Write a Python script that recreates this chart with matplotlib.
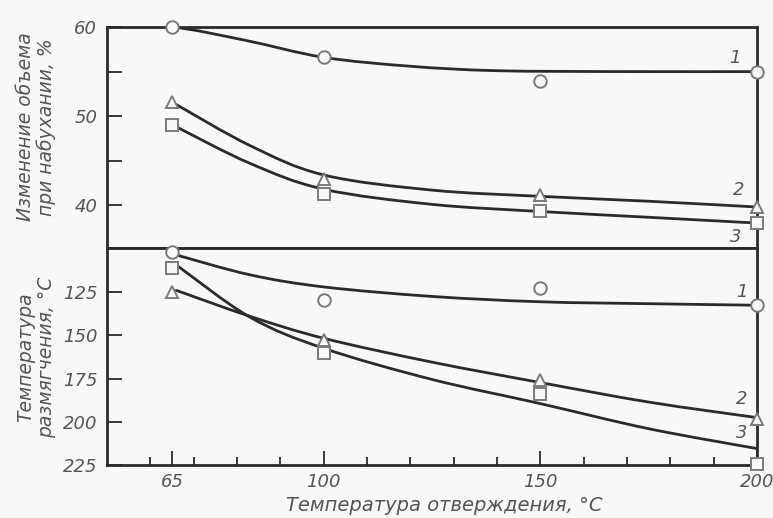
import matplotlib.pyplot as plt
from matplotlib.path import Path
from matplotlib.patches import PathPatch

# cure temperature of the measured samples, °C
t_points = [65, 100, 150, 200]

# volume change on swelling, % (measured points)
swell_1 = [60.0, 56.6, 54.0, 55.0]
swell_2 = [51.6, 43.0, 41.1, 39.8]
swell_3 = [49.0, 41.3, 39.4, 38.0]

# softening temperature, °C (measured points)
soft_1 = [102.0, 129.6, 122.7, 132.6]
soft_2 = [125.0, 152.9, 176.1, 198.5]
soft_3 = [111.0, 160.4, 183.7, 224.5]

# hand drawn averaging curves (nodes)
swell_1_x = [50, 65, 82, 100, 120, 140, 170, 200]
swell_1_y = [60.0, 60.0, 58.5, 56.6, 55.6, 55.1, 55.0, 55.0]
curve_x = [66, 83, 100, 125, 150, 175, 200]
swell_2_y = [51.3, 46.7, 43.4, 41.7, 41.0, 40.45, 39.8]
swell_3_y = [48.8, 44.7, 41.8, 40.1, 39.3, 38.65, 38.0]
soft_1_y = [103.5, 115.0, 122.0, 127.5, 130.6, 131.7, 132.6]
soft_2_y = [124.0, 139.0, 151.7, 165.5, 177.3, 188.6, 197.6]
soft_3_y = [109.3, 139.5, 157.5, 175.5, 189.5, 204.0, 215.5]

bg = '#f8f8f7'
ink = '#2b2b2b'
txt = '#555555'
mk = '#7a7a7a'


def smooth_curve(ax, xs, ys):
    # cubic bezier through the nodes (catmull-rom tangents)
    verts = [(xs[0], ys[0])]
    codes = [Path.MOVETO]
    n = len(xs)
    for i in range(n - 1):
        x0, y0 = xs[max(i - 1, 0)], ys[max(i - 1, 0)]
        x1, y1 = xs[i], ys[i]
        x2, y2 = xs[i + 1], ys[i + 1]
        x3, y3 = xs[min(i + 2, n - 1)], ys[min(i + 2, n - 1)]
        c1 = (x1 + (x2 - x0) / 6, y1 + (y2 - y0) / 6)
        c2 = (x2 - (x3 - x1) / 6, y2 - (y3 - y1) / 6)
        verts += [c1, c2, (x2, y2)]
        codes += [Path.CURVE4] * 3
    ax.add_patch(PathPatch(Path(verts, codes), fill=False, ec=ink, lw=2.0,
                           capstyle='round', zorder=2))


fig = plt.figure(figsize=(7.73, 5.18), dpi=100, facecolor=bg)
ax1 = fig.add_axes([0.1384, 0.5212, 0.8409, 0.4266], facecolor=bg)
ax2 = fig.add_axes([0.1384, 0.1023, 0.8409, 0.4189], facecolor=bg)

mk_kw = dict(ls='none', ms=9, mfc=bg, mec=mk, mew=1.4, zorder=3, clip_on=False)

# upper panel: swelling
smooth_curve(ax1, swell_1_x, swell_1_y)
smooth_curve(ax1, curve_x, swell_2_y)
smooth_curve(ax1, curve_x, swell_3_y)
ax1.plot(t_points, swell_1, marker='o', **mk_kw)
ax1.plot(t_points, swell_2, marker='^', **mk_kw)
ax1.plot(t_points, swell_3, marker='s', **mk_kw)
ax1.set_xlim(50, 200)
ax1.set_ylim(35.2, 60)
ax1.set_xticks([])
ax1.set_yticks([40, 50, 60])
ax1.set_yticks([45, 55], minor=True)

# lower panel: softening point, axis runs downward
smooth_curve(ax2, curve_x, soft_1_y)
smooth_curve(ax2, curve_x, soft_2_y)
smooth_curve(ax2, curve_x, soft_3_y)
ax2.plot(t_points, soft_1, marker='o', **mk_kw)
ax2.plot(t_points, soft_2, marker='^', **mk_kw)
ax2.plot(t_points, soft_3, marker='s', **mk_kw)
ax2.set_xlim(50, 200)
ax2.set_ylim(225, 99.5)
ax2.set_yticks([125, 150, 175, 200, 225])
ax2.set_xticks([65, 100, 150, 200])
ax2.set_xticks([60, 70, 80, 90, 110, 120, 130, 140, 160, 170, 180, 190], minor=True)

for ax in (ax1, ax2):
    for s in ax.spines.values():
        s.set_color(ink)
        s.set_linewidth(2.0)
    ax.tick_params(which='both', direction='in', color=ink, width=1.3,
                   labelcolor=txt, labelsize=13)
    ax.tick_params(axis='y', which='both', length=11, pad=7)
    ax.tick_params(axis='x', which='major', length=10, pad=6)
    ax.tick_params(axis='x', which='minor', length=6)
    for lab in ax.get_xticklabels() + ax.get_yticklabels():
        lab.set_style('italic')

# curve numbers
num_kw = dict(fontsize=13, style='italic', color=txt, ha='center', va='center')
ax1.text(195, 56.5, '1', **num_kw)
ax1.text(195.8, 41.7, '2', **num_kw)
ax1.text(195, 36.4, '3', **num_kw)
ax2.text(196.5, 125, '1', **num_kw)
ax2.text(196.5, 186.6, '2', **num_kw)
ax2.text(196.5, 206.4, '3', **num_kw)

lab_kw = dict(fontsize=13.5, style='italic', color=txt, rotation=90,
              ha='center', va='center', linespacing=1.1)
fig.text(0.047, 0.755, 'Изменение объема\nпри набухании, %', **lab_kw)
fig.text(0.047, 0.31, 'Температура\nразмягчения, °C', **lab_kw)
fig.text(0.575, 0.025, 'Температура отверждения, °C', fontsize=14,
         style='italic', color=txt, ha='center', va='center')

fig.savefig('out.png', dpi=100, facecolor=bg)
